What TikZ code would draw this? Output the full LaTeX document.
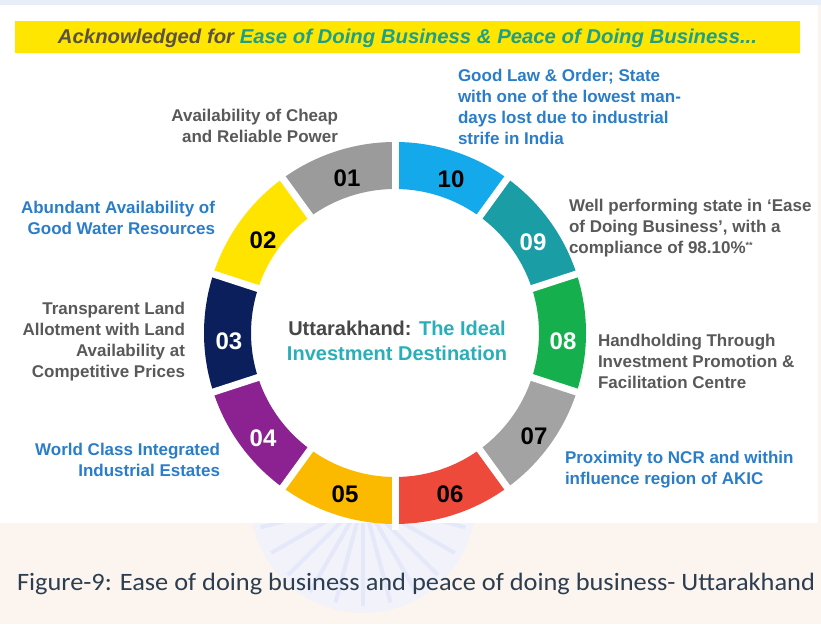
\documentclass[tikz,border=0pt]{standalone}
\usepackage{fontspec}
\usepackage{graphicx}
\setmainfont{Liberation Sans}
\newfontfamily\capfont{Carlito}

\definecolor{pagebg}{HTML}{FCF5EF}
\definecolor{topband}{HTML}{E8EEF7}
\definecolor{wheelfill}{HTML}{F2F2FB}
\definecolor{wheelspoke}{HTML}{E4E8F8}
\definecolor{banner}{HTML}{FFE600}
\definecolor{ackgray}{HTML}{5B5245}
\definecolor{acktext}{HTML}{1E9F88}
\definecolor{labgray}{HTML}{595959}
\definecolor{labblue}{HTML}{2A7DC9}
\definecolor{centgray}{HTML}{474747}
\definecolor{centteal}{HTML}{2AAEB7}
\definecolor{capcol}{HTML}{2C3E50}
\definecolor{seg01}{HTML}{9B9B9B}
\definecolor{seg02}{HTML}{FFE400}
\definecolor{seg03}{HTML}{0B1F5C}
\definecolor{seg04}{HTML}{8C2291}
\definecolor{seg05}{HTML}{FBBA00}
\definecolor{seg06}{HTML}{EE4A3B}
\definecolor{seg07}{HTML}{A3A3A3}
\definecolor{seg08}{HTML}{16AF4E}
\definecolor{seg09}{HTML}{1B9DA5}
\definecolor{seg10}{HTML}{13A9EA}

\begin{document}
\begin{tikzpicture}[x=1pt,y=1pt,
  every node/.style={inner sep=0pt, outer sep=0pt},
  numlabel/.style={font=\fontsize{24}{24}\selectfont\bfseries},
  darknum/.style={numlabel, text=black},
  lightnum/.style={numlabel, text=white},
  sidetext/.style={font=\fontsize{17}{21}\selectfont\bfseries},
  graytext/.style={sidetext, text=labgray},
  bluetext/.style={sidetext, text=labblue},
  leftlab/.style={anchor=north east, align=right},
  rightlab/.style={anchor=north west, align=left},
  gapline/.style={white, line width=7pt}
]
\useasboundingbox (0,0) rectangle (821,624);

% page background and faint wheel emblem under the caption
\fill[pagebg] (0,0) rectangle (821,624);
\begin{scope}
  \clip (0,0) rectangle (821,101);
  \fill[wheelfill] (363,124) circle[radius=113];
  \foreach \a in {0,15,...,345}
    \draw[wheelspoke, line width=4pt] (363,124) -- ++(\a:106);
\end{scope}

% white panel with thin band on top
\fill[white] (0,101) rectangle (818,619);
\fill[topband] (0,619) rectangle (821,624);

% headline banner
\fill[banner] (15,571) rectangle (800,603);
\node[anchor=base] (headline) at (407.5,580)
  {\resizebox{699pt}{\height}{\fontsize{20}{24}\selectfont\bfseries\itshape
   {\color{ackgray}Acknowledged for }{\color{acktext}Ease of Doing Business \& Peace of Doing Business...}}};

% ring of ten segments
\begin{scope}[shift={(395,291)}]
  \foreach \i/\c in {1/seg01,2/seg02,3/seg03,4/seg04,5/seg05,6/seg06,7/seg07,8/seg08,9/seg09,10/seg10} {
    \pgfmathsetmacro\aa{90+36*(\i-1)}
    \pgfmathsetmacro\ab{\aa+36}
    \fill[\c] (\aa:144) arc[start angle=\aa, end angle=\ab, radius=144]
      -- (\ab:191) arc[start angle=\ab, end angle=\aa, radius=191] -- cycle;
  }
  \foreach \k in {0,...,9}
    \draw[gapline] ({90+36*\k}:138) -- ({90+36*\k}:197);
\end{scope}

% segment numbers
\node[darknum]  (n01) at (347,446) {01};
\node[darknum]  (n02) at (263,384) {02};
\node[lightnum] (n03) at (229,283) {03};
\node[lightnum] (n04) at (263,186) {04};
\node[darknum]  (n05) at (345,130) {05};
\node[darknum]  (n06) at (450,130) {06};
\node[darknum]  (n07) at (534,188) {07};
\node[lightnum] (n08) at (563,283) {08};
\node[lightnum] (n09) at (533,382) {09};
\node[darknum]  (n10) at (451,445) {10};

% centre statement
\node[align=center, font=\fontsize{20}{25}\selectfont\bfseries] (centre) at (397,283.5)
  {{\color{centgray}Uttarakhand:} {\color{centteal}The Ideal}\\
   {\color{centteal}Investment Destination}};

% descriptions around the ring
\node[graytext, leftlab] (t01) at (338,515)
  {Availability of Cheap\\and Reliable Power};
\node[bluetext, leftlab] (t02) at (215,423)
  {Abundant Availability of\\Good Water Resources};
\node[graytext, leftlab] (t03) at (185,322)
  {Transparent Land\\Allotment with Land\\Availability at\\Competitive Prices};
\node[bluetext, leftlab] (t04) at (220,181)
  {World Class Integrated\\Industrial Estates};
\node[bluetext, rightlab] (t10) at (458,555)
  {Good Law \& Order; State\\with one of the lowest man-\\days lost due to industrial\\strife in India};
\node[graytext, rightlab] (t09) at (569,425)
  {Well performing state in ‘Ease\\of Doing Business’, with a\\compliance of 98.10\%\raisebox{5pt}{\fontsize{9}{9}\selectfont **}};
\node[graytext, rightlab] (t08) at (598,290)
  {Handholding Through\\Investment Promotion \&\\Facilitation Centre};
\node[bluetext, rightlab] (t07) at (565,173)
  {Proximity to NCR and within\\influence region of AKIC};

% caption
\node[anchor=base west, text=capcol] (caption) at (17,34)
  {\resizebox{798pt}{\height}{\capfont\fontsize{25}{30}\selectfont Figure-9: Ease of doing business and peace of doing business- Uttarakhand}};
\end{tikzpicture}
\end{document}
